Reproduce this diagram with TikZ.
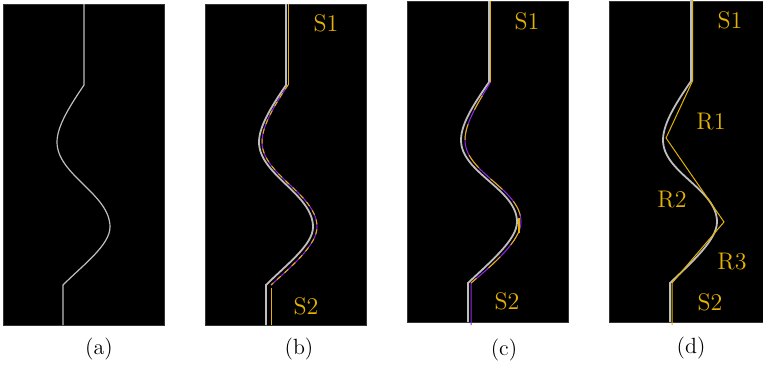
\documentclass[tikz,border=0pt]{standalone}
\begin{document}
\begin{tikzpicture}[x=0.5pt,y=-0.5pt,
  panel/.style={fill=black,draw=black!80},
  graycurve/.style={draw=curvegray,line width=0.9pt},
  thingray/.style={draw=curvegray,line width=0.6pt},
  yel/.style={draw=gold,line width=0.5pt},
  pur/.style={draw=violetline,line width=0.5pt},
  lab/.style={text=gold,font=\fontsize{12}{14}\selectfont,inner sep=0pt},
  captext/.style={font=\fontsize{11}{13}\selectfont,inner sep=0pt}]
\definecolor{curvegray}{RGB}{190,190,190}
\definecolor{gold}{RGB}{228,178,0}
\definecolor{violetline}{RGB}{150,40,235}
\useasboundingbox (0,0) rectangle (763,367);
\begin{scope}
\clip (0,0) rectangle (763,367);
% panels
\fill[panel] (3,4) rectangle (164,325);
\fill[panel] (205,4) rectangle (366,325);
\fill[panel] (407,1) rectangle (568,322);
\fill[panel] (609,1) rectangle (775,322);
% (a)
\begin{scope}[shift={(84,85)}]
\draw[thingray] (0,-81) -- (0,0) .. controls (-12,18) and (-27,40) .. (-27,57)
  .. controls (-27,90) and (26,109) .. (26,142)
  .. controls (26,160) and (-1,180) .. (-21,200) -- (-21,240);
\end{scope}
% (b)
\begin{scope}[shift={(286,85)}]
\draw[graycurve] (0,-81) -- (0,0) .. controls (-12,18) and (-27,40) .. (-27,57)
  .. controls (-27,90) and (27,109) .. (27,142)
  .. controls (27,160) and (0,180) .. (-20,200) -- (-20,240);
\draw[yel] (2,-81) -- (2,0);
\draw[pur] (2,0) .. controls (-10,18) and (-24,40) .. (-24,57)
  .. controls (-24,90) and (31,109) .. (31,142)
  .. controls (31,160) and (5,182) .. (-15,200);
\draw[yel,dash pattern=on 2.5pt off 2.5pt] (2,0) .. controls (-10,18) and (-24,40) .. (-24,57)
  .. controls (-24,90) and (31,109) .. (31,142)
  .. controls (31,160) and (5,182) .. (-15,200);
\draw[yel] (-15,203) -- (-15,240);
\end{scope}
% (c)
\begin{scope}[shift={(489,82)}]
\draw[graycurve] (0,-81) -- (0,0) .. controls (-12,18) and (-28,40) .. (-28,58)
  .. controls (-28,91) and (28,107) .. (28,140)
  .. controls (28,158) and (0,181) .. (-21,201) -- (-21,240);
\draw[yel] (1.5,-81) -- (1.5,0);
\draw[pur] (1.5,0) .. controls (-9,18) and (-24,40) .. (-24,58)
  .. controls (-24,91) and (32,107) .. (32,140)
  .. controls (32,158) and (5,182) .. (-18,201) -- (-18,243);
\draw[yel,dash pattern=on 8pt off 8pt,dash phase=8pt] (1.5,0) .. controls (-9,18) and (-24,40) .. (-24,58)
  .. controls (-24,91) and (32,107) .. (32,140)
  .. controls (32,158) and (5,182) .. (-18,201);
\draw[yel,line width=0.8pt] (30,136) -- (30,151);
\end{scope}
% (d)
\begin{scope}[shift={(691,81)}]
\draw[graycurve] (0,-81) -- (0,0) .. controls (-12,18) and (-28,41) .. (-28,59)
  .. controls (-28,92) and (26,108) .. (26,141)
  .. controls (26,159) and (0,182) .. (-21,202) -- (-21,241);
\draw[yel] (1.5,-81) -- (1.5,0) -- (-25,57) -- (33,141) -- (-19,202) -- (-19,244);
\end{scope}
\end{scope}
% labels
\node[lab] (s1b) at (326,23) {S1};
\node[lab] (s2b) at (306,306) {S2};
\node[lab] (s1c) at (527,21) {S1};
\node[lab] (s2c) at (507,301) {S2};
\node[lab] (s1d) at (730,20) {S1};
\node[lab] (s2d) at (710,302) {S2};
\node[lab] (r1) at (711,122) {R1};
\node[lab] (r2) at (672,200) {R2};
\node[lab] (r3) at (732,262) {R3};
\node[captext] (ca) at (99,349) {(a)};
\node[captext] (cb) at (299,349) {(b)};
\node[captext] (cc) at (504,350) {(c)};
\node[captext] (cd) at (691,348) {(d)};
\end{tikzpicture}
\end{document}
